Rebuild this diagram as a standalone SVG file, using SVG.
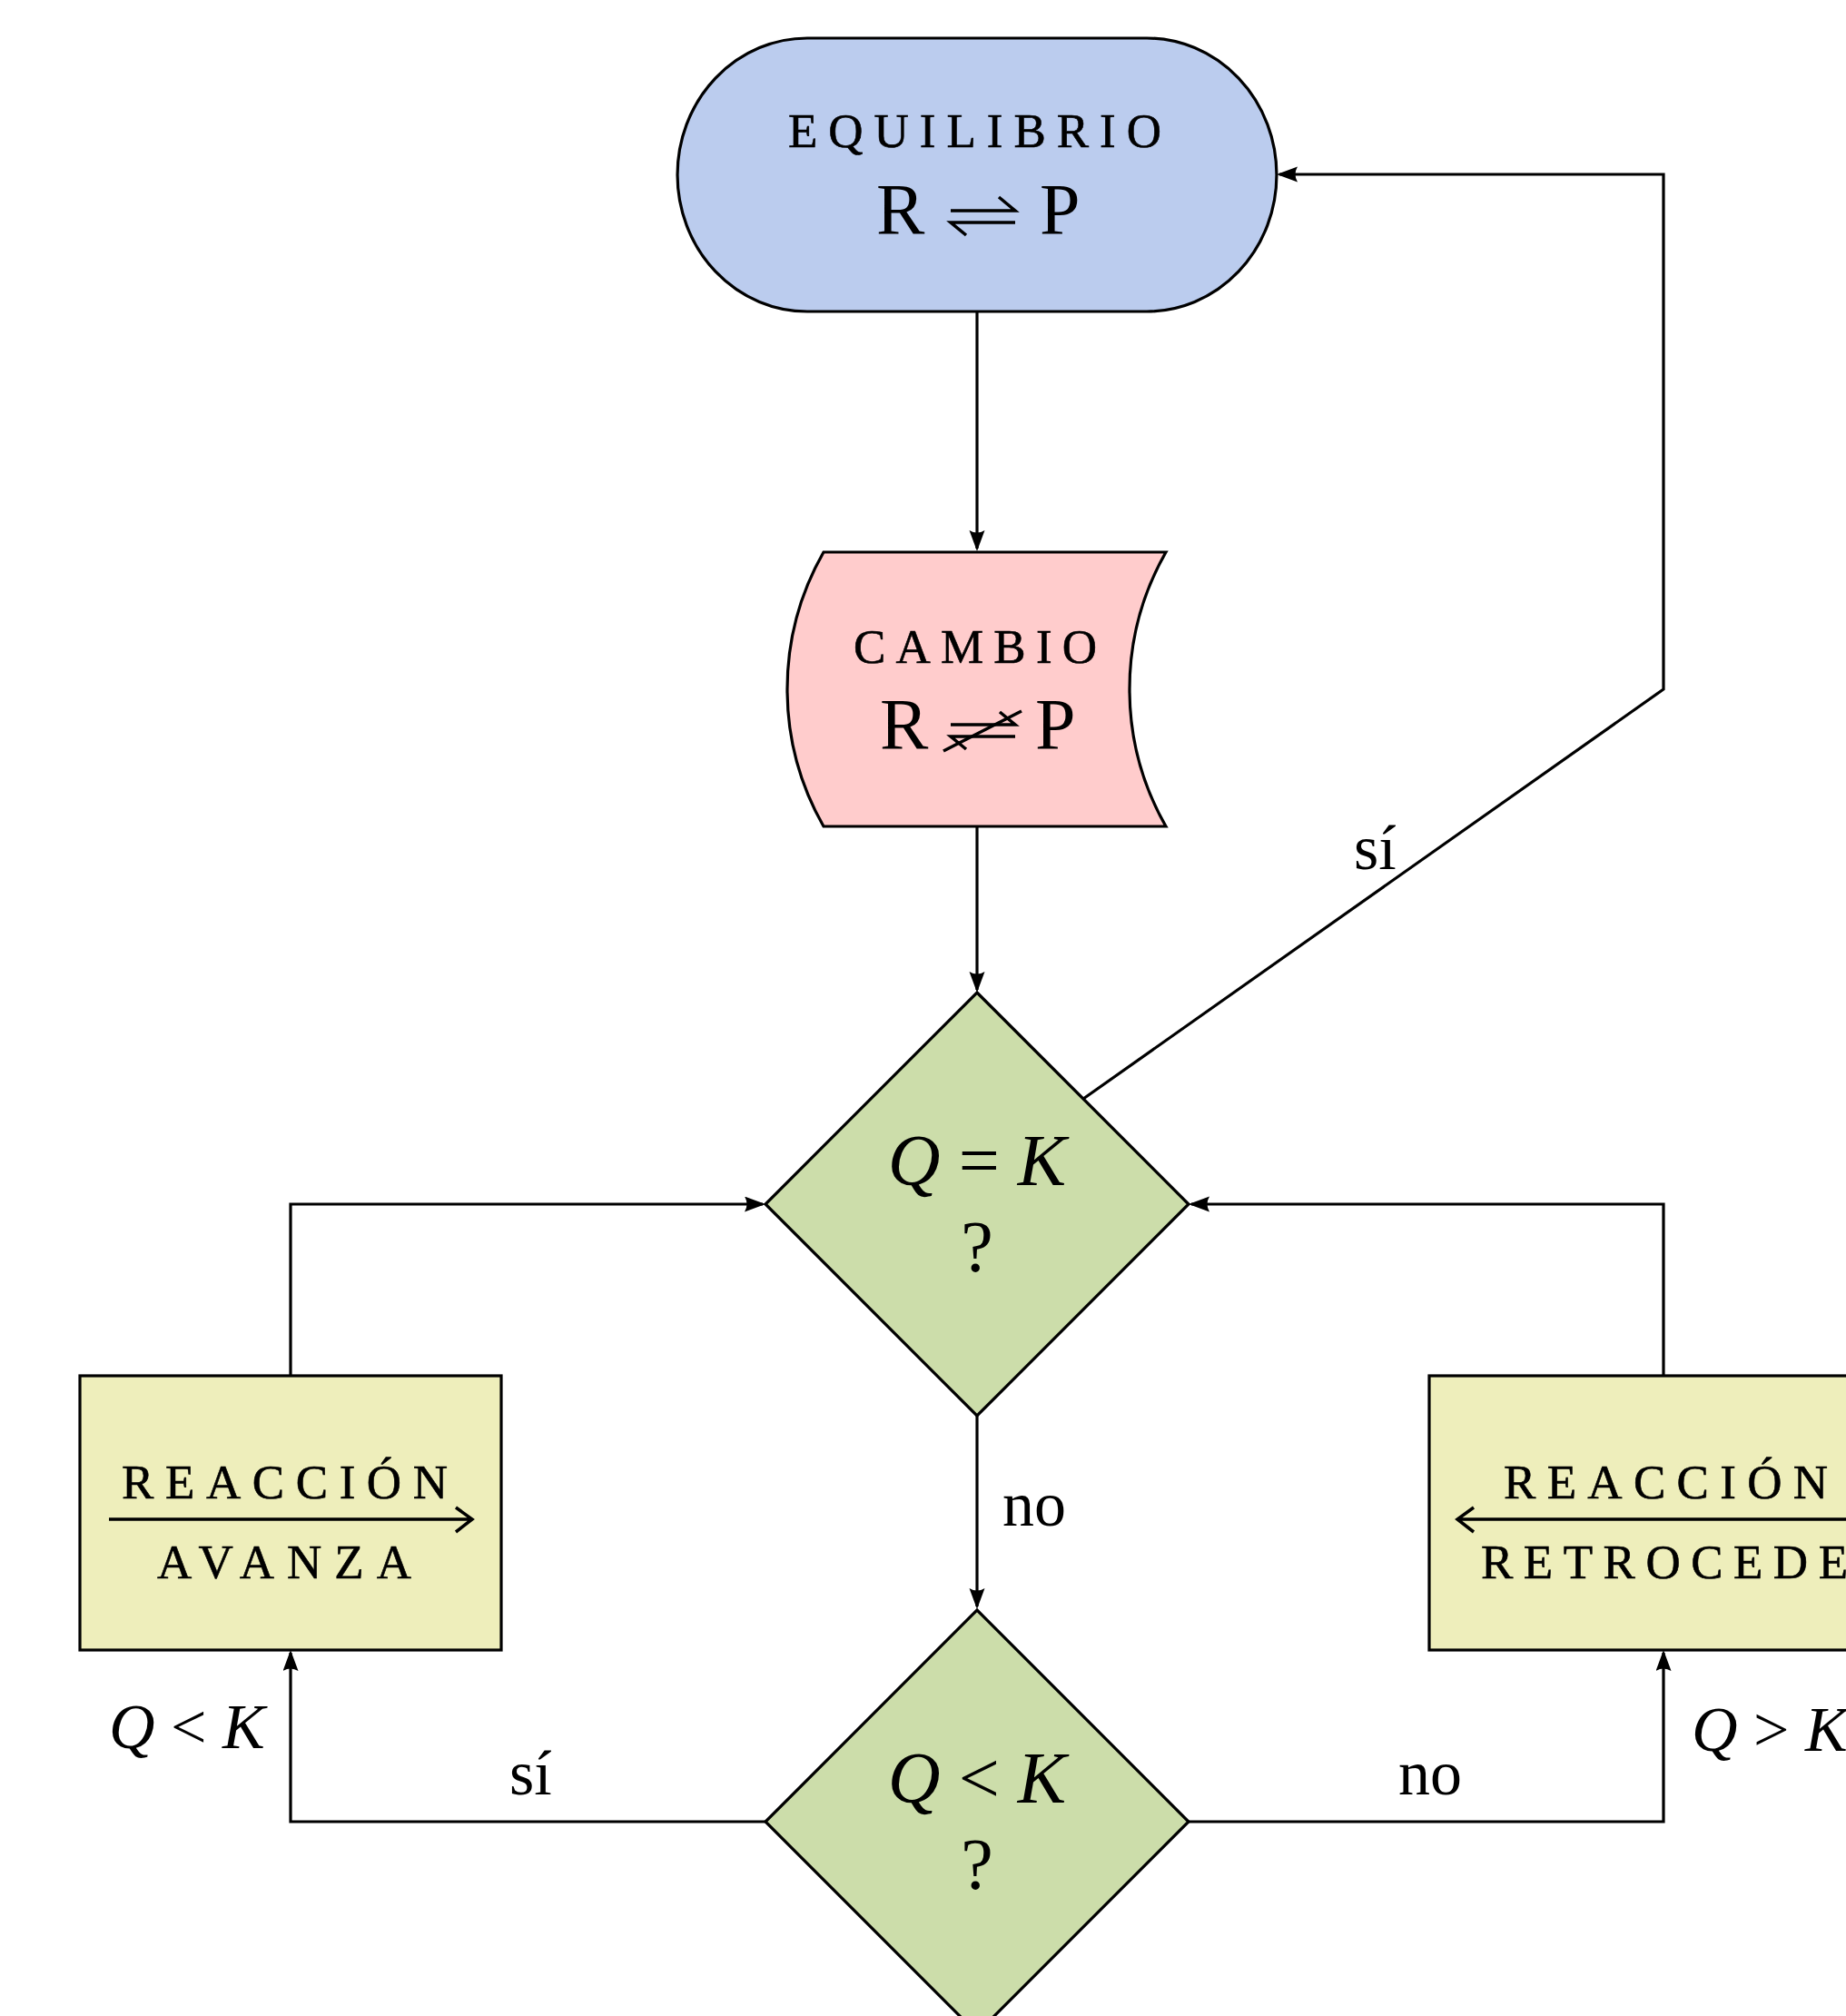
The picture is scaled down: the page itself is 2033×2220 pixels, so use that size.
<svg xmlns="http://www.w3.org/2000/svg" width="2033" height="2220" viewBox="0 0 2033 2220">
<style>
.node{stroke:#000;stroke-width:3.2}
.conn{fill:none;stroke:#000;stroke-width:3.2}
.sc{font-family:"Liberation Serif",serif;font-size:53px;fill:#000;stroke:#000;stroke-width:0.6}
.m{font-family:"Liberation Serif",serif;font-size:80px;fill:#000}
.lbl{font-family:"Liberation Serif",serif;font-size:70px;fill:#000}
.it{font-style:italic}
.sym{fill:none;stroke:#000;stroke-width:3.5}
</style>
<defs>
<marker id="ah" markerUnits="userSpaceOnUse" markerWidth="26" markerHeight="20" refX="20" refY="8.5" orient="auto">
<path d="M0,0 L23,8.5 L0,17 Q5,8.5 0,0 Z" fill="#000"/>
</marker>
</defs>
<rect width="2033" height="2220" fill="#fff"/>
<g id="connectors">
<path class="conn" d="M1076,343 V604" marker-end="url(#ah)"/>
<path class="conn" d="M1076,910 V1090" marker-end="url(#ah)"/>
<path class="conn" d="M1076,1559 V1769" marker-end="url(#ah)"/>
<path class="conn" d="M1193,1210 L1832,759 V192 H1409" marker-end="url(#ah)"/>
<path class="conn" d="M320,1515 V1326 H840" marker-end="url(#ah)"/>
<path class="conn" d="M1832,1515 V1326 H1312" marker-end="url(#ah)"/>
<path class="conn" d="M843,2006 H320 V1820" marker-end="url(#ah)"/>
<path class="conn" d="M1309,2006 H1832 V1820" marker-end="url(#ah)"/>
<text class="lbl" x="1491" y="957">sí</text>
<text class="lbl" x="1104" y="1680">no</text>
<text class="lbl" x="561" y="1976">sí</text>
<text class="lbl" x="1540" y="1976">no</text>
<text class="lbl" x="120" y="1925"><tspan class="it">Q</tspan> &lt; <tspan class="it">K</tspan></text>
<text class="lbl" x="1863" y="1928"><tspan class="it">Q</tspan> &gt; <tspan class="it">K</tspan></text>
</g>
<g id="equilibrio">
<path class="node" fill="#BBCCEE" d="M889,42 H1263 A143,150.5 0 0 1 1263,343 H889 A143,150.5 0 0 1 889,42 Z"/>
<text class="sc" x="868" y="162" textLength="411" lengthAdjust="spacing">EQUILIBRIO</text>
<text class="m" x="965" y="258">R</text>
<text class="m" x="1145" y="258">P</text>
<path class="sym" d="M1047,232 H1118 L1100,217 M1118,245 H1047 L1064,259"/>
</g>
<g id="cambio">
<path class="node" fill="#FFCCCC" d="M907,608 H1284 A305,305 0 0 0 1284,910 H907 A305,305 0 0 1 907,608 Z"/>
<text class="sc" x="940" y="730" textLength="268" lengthAdjust="spacing">CAMBIO</text>
<text class="m" x="969" y="825">R</text>
<text class="m" x="1140" y="825">P</text>
<path class="sym" d="M1047,798 H1118 L1101,784 M1118,811 H1047 L1064,825"/>
<path class="sym" stroke-width="3" d="M1039,827 L1125,783"/>
</g>
<g id="q-igual-k">
<path class="node" fill="#CCDDAA" d="M1076,1093 L1309,1326 L1076,1559 L843,1326 Z"/>
<text class="m" x="1076" y="1305" text-anchor="middle"><tspan class="it">Q</tspan> = <tspan class="it">K</tspan></text>
<text class="m" x="1076" y="1400" text-anchor="middle">?</text>
</g>
<g id="q-menor-k">
<path class="node" fill="#CCDDAA" d="M1076,1773 L1309,2006 L1076,2239 L843,2006 Z"/>
<text class="m" x="1076" y="1985" text-anchor="middle"><tspan class="it">Q</tspan> &lt; <tspan class="it">K</tspan></text>
<text class="m" x="1076" y="2080" text-anchor="middle">?</text>
</g>
<g id="avanza">
<rect class="node" fill="#EEEEBB" x="88" y="1515" width="464" height="302"/>
<text class="sc" x="134" y="1650" textLength="359" lengthAdjust="spacing">REACCIÓN</text>
<text class="sc" x="173" y="1738" textLength="280" lengthAdjust="spacing">AVANZA</text>
<path class="sym" stroke-width="3" d="M120,1673 H519 M502,1660 L520,1673 L502,1687"/>
</g>
<g id="retrocede">
<rect class="node" fill="#EEEEBB" x="1574" y="1515" width="516" height="302"/>
<text class="sc" x="1656" y="1650" textLength="357" lengthAdjust="spacing">REACCIÓN</text>
<text class="sc" x="1631" y="1738" textLength="404" lengthAdjust="spacing">RETROCEDE</text>
<path class="sym" stroke-width="3" d="M1606,1673 H2060 M1623,1660 L1605,1673 L1623,1687"/>
</g>
</svg>
